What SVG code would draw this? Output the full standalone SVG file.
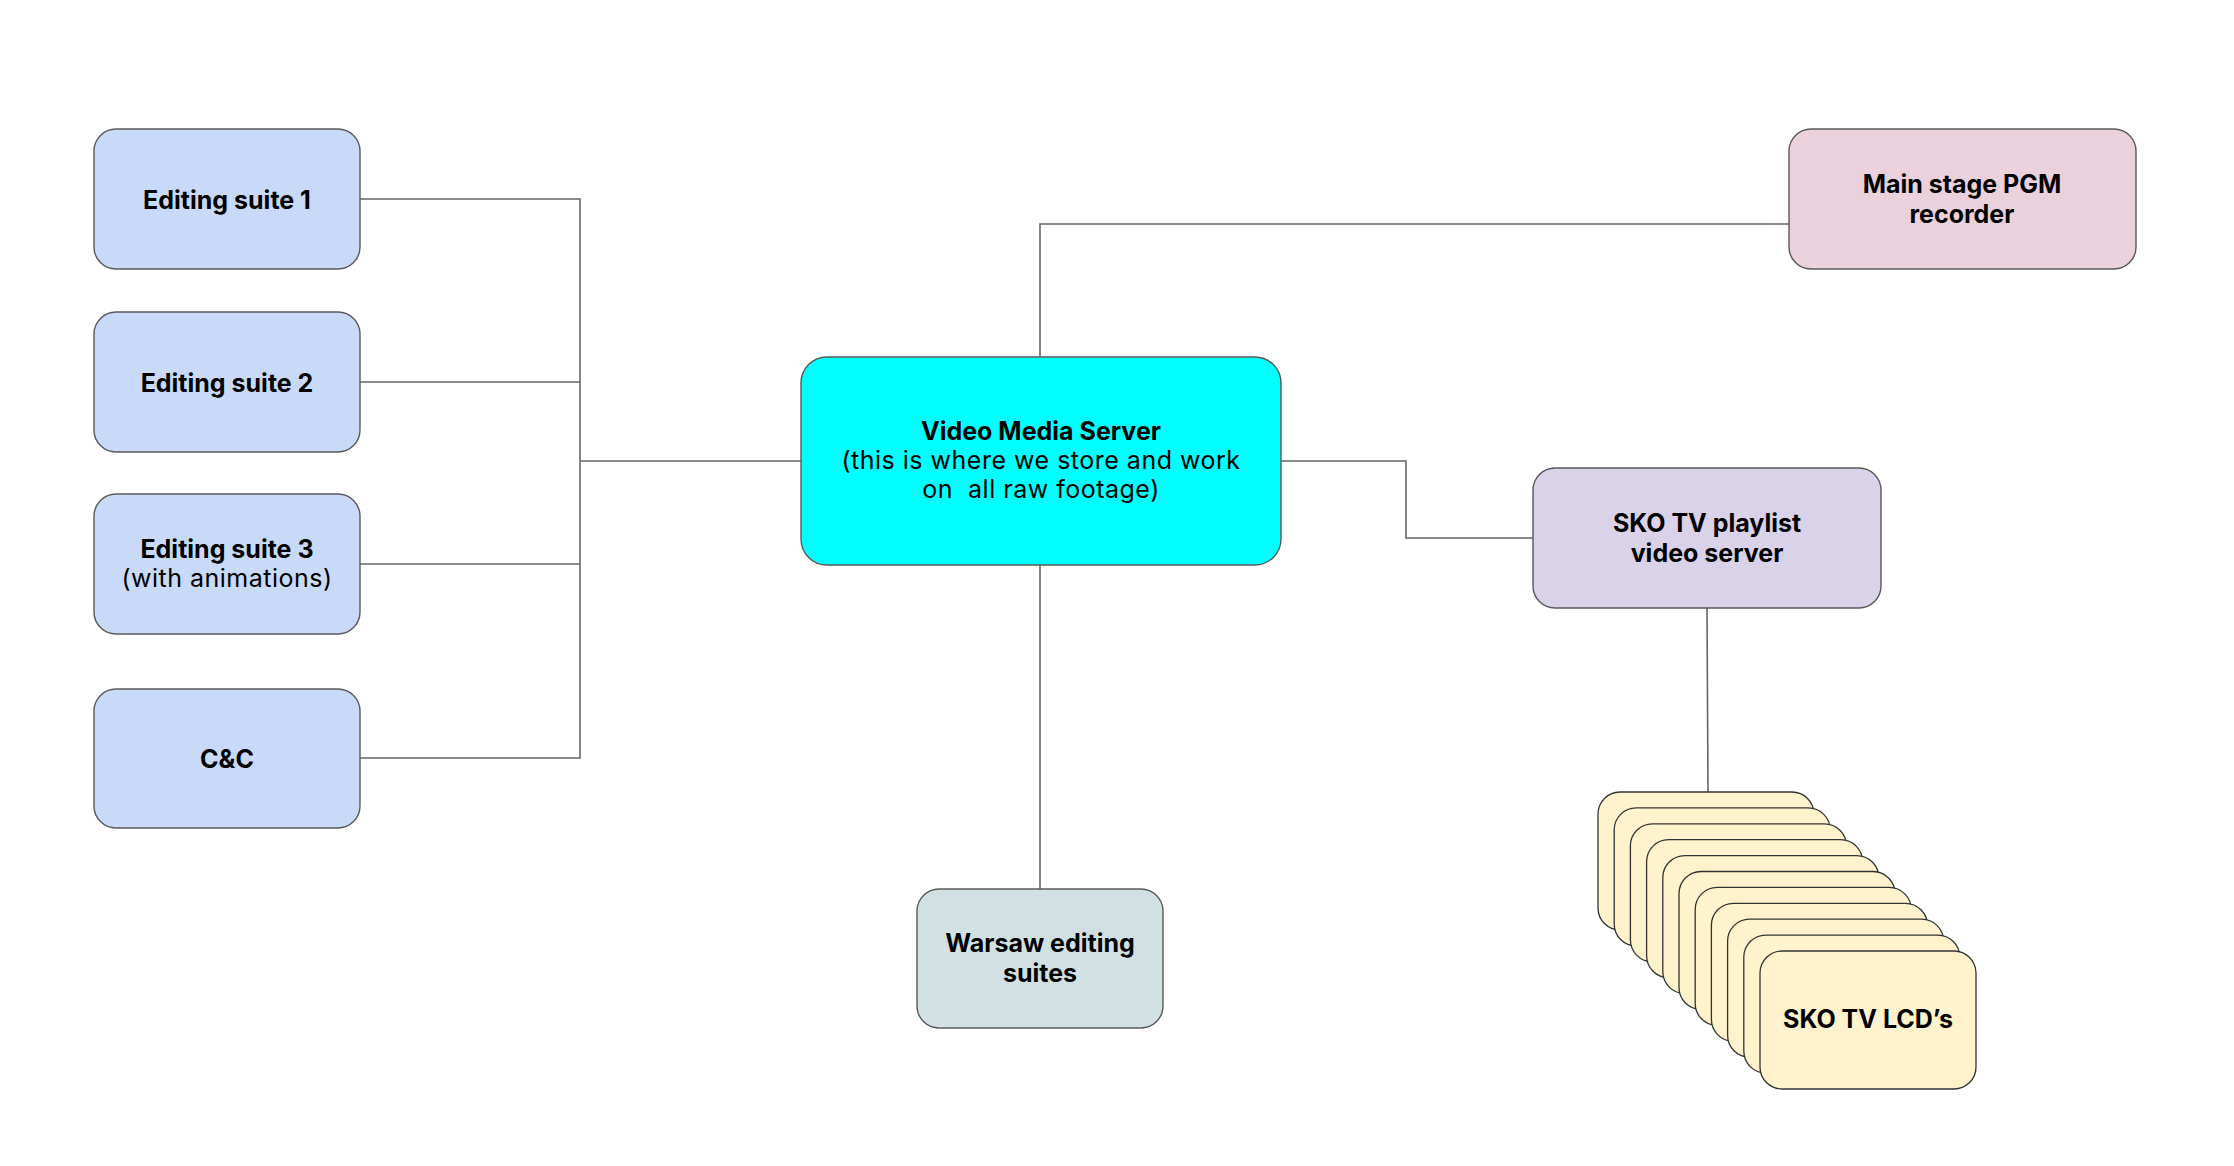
<svg xmlns="http://www.w3.org/2000/svg" width="2234" height="1166" viewBox="0 0 2234 1166">
<style>
.n{stroke:#595959;stroke-width:1.4}
.b{font-family:Inter,"Liberation Sans",sans-serif;font-weight:700;font-size:25px;fill:#000;text-anchor:middle}
.r{font-family:Inter,"Liberation Sans",sans-serif;font-weight:400;font-size:25px;letter-spacing:0.5px;fill:#000;text-anchor:middle}
.c{fill:none;stroke:#666;stroke-width:1.6}
.lcd{fill:#fff2cc;stroke:#333;stroke-width:1.3}
</style>
<rect width="2234" height="1166" fill="#fff"/>
<g id="connectors">
<polyline class="c" points="360,199 580,199 580,758 360,758"/>
<line class="c" x1="360" y1="382" x2="580" y2="382"/>
<line class="c" x1="360" y1="564" x2="580" y2="564"/>
<line class="c" x1="580" y1="461" x2="801" y2="461"/>
<polyline class="c" points="1040,357 1040,224 1789,224"/>
<polyline class="c" points="1281,461 1406,461 1406,538 1533,538"/>
<line class="c" x1="1040" y1="565" x2="1040" y2="889"/>
<line class="c" x1="1707" y1="608" x2="1708" y2="792"/>
</g>
<g id="editing-suite-1">
<rect class="n" x="94" y="129" width="266" height="140" rx="22" fill="#c9daf8"/>
<text class="b" x="227" y="209">Editing suite 1</text>
</g>
<g id="editing-suite-2">
<rect class="n" x="94" y="312" width="266" height="140" rx="22" fill="#c9daf8"/>
<text class="b" x="227" y="392">Editing suite 2</text>
</g>
<g id="editing-suite-3">
<rect class="n" x="94" y="494" width="266" height="140" rx="22" fill="#c9daf8"/>
<text class="b" x="227" y="558">Editing suite 3</text>
<text class="r" x="227" y="587">(with animations)</text>
</g>
<g id="cc">
<rect class="n" x="94" y="689" width="266" height="139" rx="22" fill="#c9daf8"/>
<text class="b" x="227" y="768">C&amp;C</text>
</g>
<g id="video-media-server">
<rect class="n" x="801" y="357" width="480" height="208" rx="26" fill="#00ffff"/>
<text class="b" x="1041" y="440">Video Media Server</text>
<text class="r" x="1041" y="469">(this is where we store and work</text>
<text class="r" x="1041" y="498">on&#160; all raw footage)</text>
</g>
<g id="main-stage-pgm-recorder">
<rect class="n" x="1789" y="129" width="347" height="140" rx="22" fill="#ead1dc"/>
<text class="b" x="1962" y="193">Main stage PGM</text>
<text class="b" x="1962" y="223">recorder</text>
</g>
<g id="sko-tv-playlist-video-server">
<rect class="n" x="1533" y="468" width="348" height="140" rx="22" fill="#d9d2e9"/>
<text class="b" x="1707" y="532">SKO TV playlist</text>
<text class="b" x="1707" y="562">video server</text>
</g>
<g id="warsaw-editing-suites">
<rect class="n" x="917" y="889" width="246" height="139" rx="22" fill="#d0e0e3"/>
<text class="b" x="1040" y="952">Warsaw editing</text>
<text class="b" x="1040" y="982">suites</text>
</g>
<g id="sko-tv-lcds">
<rect class="lcd" x="1598" y="792" width="216" height="138" rx="22"/>
<rect class="lcd" x="1614.2" y="807.9" width="216" height="138" rx="22"/>
<rect class="lcd" x="1630.4" y="823.8" width="216" height="138" rx="22"/>
<rect class="lcd" x="1646.6" y="839.7" width="216" height="138" rx="22"/>
<rect class="lcd" x="1662.8" y="855.6" width="216" height="138" rx="22"/>
<rect class="lcd" x="1679" y="871.5" width="216" height="138" rx="22"/>
<rect class="lcd" x="1695.2" y="887.4" width="216" height="138" rx="22"/>
<rect class="lcd" x="1711.4" y="903.3" width="216" height="138" rx="22"/>
<rect class="lcd" x="1727.6" y="919.2" width="216" height="138" rx="22"/>
<rect class="lcd" x="1743.8" y="935.1" width="216" height="138" rx="22"/>
<rect class="lcd" x="1760" y="951" width="216" height="138" rx="22"/>
<text class="b" x="1868" y="1028">SKO TV LCD’s</text>
</g>
</svg>
